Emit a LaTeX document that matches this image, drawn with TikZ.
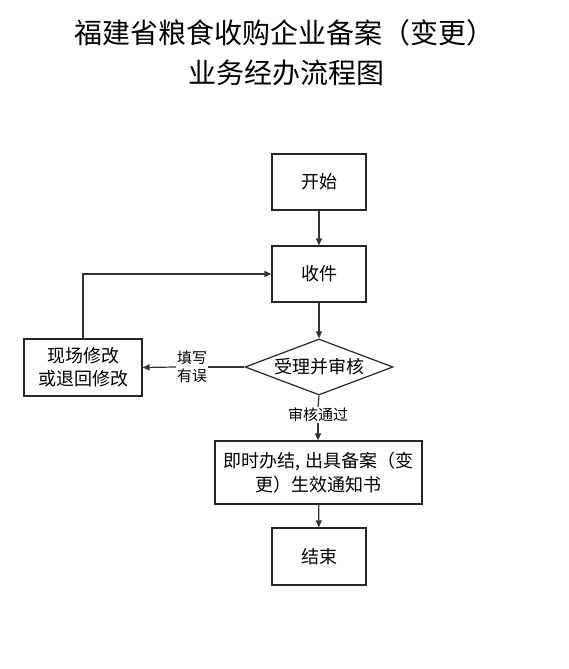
\documentclass[tikz,border=0pt]{standalone}
\usepackage{fontspec}
\setmainfont{Noto Sans CJK SC}
\usetikzlibrary{shapes.geometric,arrows.meta}
\begin{document}
\begin{tikzpicture}[x=1pt,y=-1pt,
  box/.style={draw=black!85,line width=1.2pt,minimum width=94pt,minimum height=56pt,inner sep=0pt,align=center,font=\fontsize{18}{22}\selectfont},
  dia/.style={draw=black!85,line width=1.2pt,diamond,aspect=2.64,minimum width=148pt,minimum height=56pt,inner sep=0pt,font=\fontsize{18}{22}\selectfont},
  line/.style={draw=black!80,line width=1.2pt},
  conn/.style={line,-{Triangle[length=7pt,width=6pt]}},
  lbl/.style={font=\fontsize{15}{18}\selectfont,align=center,inner sep=1pt}]
\useasboundingbox (0,0) rectangle (569,669);
\node[font=\fontsize{28}{32}\selectfont] (t1) at (284,33) {福建省粮食收购企业备案（变更）};
\node[font=\fontsize{28}{32}\selectfont] (t2) at (286,73) {业务经办流程图};
\node[box] (start) at (319,182) {开始};
\node[box] (recv) at (319,274) {收件};
\node[dia] (check) at (319,367) {受理并审核};
\node[box,minimum width=118pt,minimum height=57pt,font=\fontsize{18}{23}\selectfont] (fix) at (83,367.5) {现场修改\\或退回修改};
\node[box,minimum width=207pt,minimum height=63pt,font=\fontsize{18}{24}\selectfont] (done) at (318.5,472.5) {即时办结, 出具备案（变\\更）生效通知书};
\node[box,minimum height=57pt] (end) at (319,556.5) {结束};
\node[lbl,fill=white] (pass) at (318,415) {审核通过};
\node[lbl] (wrong) at (192,367) {填写\\有误};
\draw[conn] (start) -- (recv);
\draw[conn] (recv) -- (check);
\draw[line] (check.south) -- (pass.north);
\draw[conn] (pass.south) -- (done.north -| pass.south);
\draw[conn] (done) -- (end);
\draw[line] (check.west) -- (wrong.east);
\draw[conn] (wrong.west) -- (fix.east);
\draw[conn] (fix.north) |- (recv.west);
\end{tikzpicture}
\end{document}
